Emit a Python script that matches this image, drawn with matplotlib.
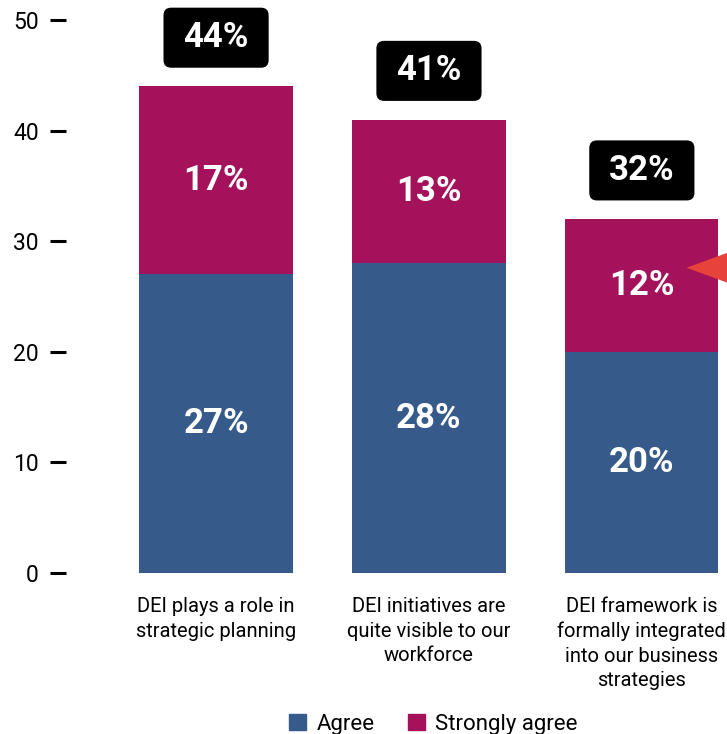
import numpy as np
import matplotlib.pyplot as plt
from matplotlib.patches import FancyBboxPatch, Polygon, Patch

plt.rcParams['font.family'] = ['Roboto', 'DejaVu Sans']

# data
categories = ['DEI plays a role in\nstrategic planning',
              'DEI initiatives are\nquite visible to our\nworkforce',
              'DEI framework is\nformally integrated\ninto our business\nstrategies']
agree = [27, 28, 20]
strongly_agree = [17, 13, 12]
series_names = ['Agree', 'Strongly agree']

blue = '#365b8a'
magenta = '#a3125a'
arrow_red = '#e8433a'

totals = [a + s for a, s in zip(agree, strongly_agree)]
x = np.arange(len(categories))

fig = plt.figure(figsize=(7.27, 7.34), dpi=100)
ax = fig.add_axes([66 / 727, 161 / 734, (727 - 66) / 727, (573 - 20) / 734])

bw = 0.72
ax.bar(x, agree, width=bw, color=blue, label=series_names[0])
ax.bar(x, strongly_agree, bottom=agree, width=bw, color=magenta, label=series_names[1])

ax.set_xlim(-0.705, 2.40)
ax.set_ylim(0, 50)

# percentages inside segments
for i in range(len(x)):
    ax.text(x[i], agree[i] / 2, f'{agree[i]}%', ha='center', va='center',
            color='white', fontsize=25, fontweight='bold')
    ax.text(x[i], agree[i] + strongly_agree[i] / 2, f'{strongly_agree[i]}%',
            ha='center', va='center', color='white', fontsize=25, fontweight='bold')

# total labels in black boxes
bx_w, bx_h = 0.494, 5.43
aspect = (1 / 11.04) / (1 / 212.7)
for i in range(len(x)):
    yc = totals[i] + 4.4
    box = FancyBboxPatch((x[i] - bx_w / 2, yc - bx_h / 2), bx_w, bx_h,
                         boxstyle='round,pad=0,rounding_size=0.036',
                         mutation_aspect=aspect, fc='black', ec='none',
                         clip_on=False, zorder=3)
    ax.add_patch(box)
    ax.text(x[i], yc, f'{totals[i]}%', ha='center', va='center',
            color='white', fontsize=25, fontweight='bold', zorder=4)

# red callout arrow pointing at the third bar
tip_x, tip_y = x[2] + 0.21, 27.6
arrow = Polygon([[tip_x, tip_y], [tip_x + 0.39, tip_y + 2.75], [tip_x + 0.39, tip_y - 2.75]],
                closed=True, fc=arrow_red, ec='none', clip_on=False, zorder=5)
ax.add_patch(arrow)

ax.set_yticks([0, 10, 20, 30, 40, 50])
ax.tick_params(axis='y', length=11.5, width=2.2, pad=8, labelsize=16.5, color='black')
ax.set_xticks(x)
ax.set_xticklabels(categories, fontsize=14.5, linespacing=1.36)
ax.tick_params(axis='x', length=0, pad=17.5)
for s in ax.spines.values():
    s.set_visible(False)

handles = [Patch(color=blue), Patch(color=magenta)]
fig.legend(handles, series_names, loc='center', bbox_to_anchor=(0.596, 0.0136),
           ncol=2, frameon=False, fontsize=16, handlelength=0.77, handleheight=0.77,
           handletextpad=0.45, columnspacing=1.5, borderpad=0.1)

fig.savefig('out.png', dpi=100)
